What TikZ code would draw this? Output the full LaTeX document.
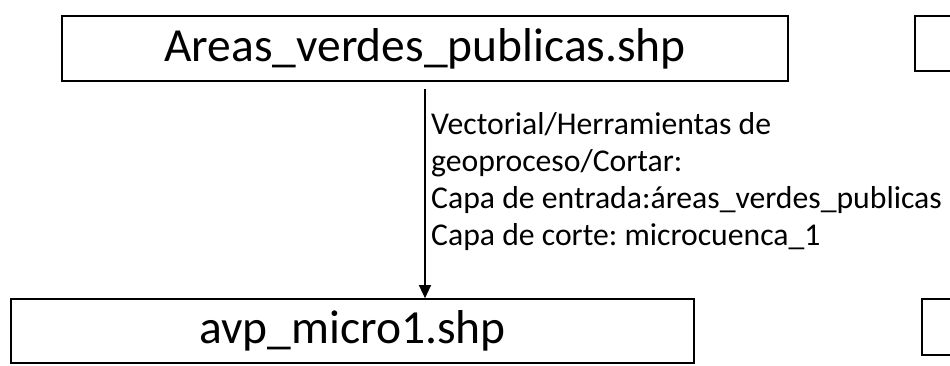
\documentclass[tikz,border=0pt]{standalone}
\usepackage{fontspec}
\setmainfont{Carlito}
\usetikzlibrary{arrows.meta}
\frenchspacing
\begin{document}
\begin{tikzpicture}[x=1pt,y=1pt,
  filebox/.style={draw=black, line width=1.6pt, minimum height=#1, inner sep=0pt,
    font=\fontsize{47.5}{56}\selectfont},
  flow/.style={draw=black, line width=1.3pt, -{Triangle[width=12pt,length=13pt]}},
  lbl/.style={align=left, inner sep=0pt, font=\fontsize{31.7}{37}\selectfont}]
\clip (0,0) rectangle (950,366);
\node[filebox=65pt, minimum width=726pt] (top) at (425,317.5) {Areas\_verdes\_publicas.shp};
\node[filebox=64pt, minimum width=683pt] (bot) at (352.5,35) {avp\_micro1.shp};
\node[filebox=55pt, minimum width=100pt, anchor=west] (topr) at (914,322.5) {};
\node[filebox=56pt, minimum width=100pt, anchor=west] (botr) at (921,39) {};
\coordinate (a1) at ([yshift=-7pt]top.south);
\draw[flow] (a1) -- (a1 |- bot.north);
\node[lbl, anchor=north west] (lab) at (431,253.5)
  {Vectorial/Herramientas de\\geoproceso/Cortar:\\Capa de entrada:áreas\_verdes\_publicas\\Capa de corte: microcuenca\_1};
\end{tikzpicture}
\end{document}
